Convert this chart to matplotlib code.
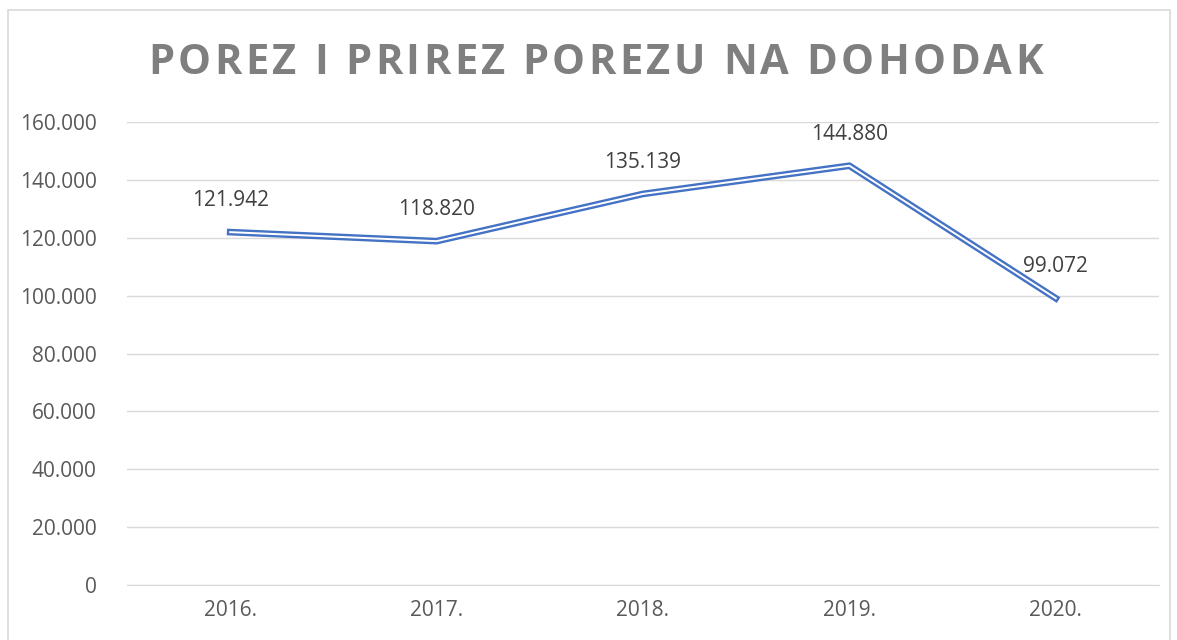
import matplotlib.pyplot as plt
from matplotlib.patches import Rectangle

years = ["2016.", "2017.", "2018.", "2019.", "2020."]
values = [121942, 118820, 135139, 144880, 99072]
labels = ["121.942", "118.820", "135.139", "144.880", "99.072"]
yticks = [0, 20000, 40000, 60000, 80000, 100000, 120000, 140000, 160000]
ytick_labels = ["0", "20.000", "40.000", "60.000", "80.000", "100.000", "120.000", "140.000", "160.000"]
title = "POREZ I PRIREZ POREZU NA DOHODAK"

plt.rcParams['font.family'] = ['Open Sans', 'DejaVu Sans']

fig = plt.figure(figsize=(11.77, 6.4), dpi=100)
ax = fig.add_axes([0.1079, 0.0859, 0.8768, 0.7235])

# outer chart border
fig.patches.append(Rectangle((8 / 1177, -0.05), 1162 / 1177, 1 - 10 / 640 + 0.05,
                             transform=fig.transFigure, fill=False,
                             edgecolor='#D9D9D9', linewidth=1.2))

x = range(len(years))
# double (compound) line: thick blue with thin white stripe inside
ax.plot(x, values, color='#4472C4', linewidth=4.8, solid_joinstyle='miter', zorder=3)
ax.plot(x, values, color='white', linewidth=1.4, solid_joinstyle='miter', zorder=4)

for i, v in enumerate(values):
    ax.annotate(labels[i], (i, v), xytext=(0, 15), textcoords='offset points',
                ha='center', va='bottom', fontsize=15, color='#404040')

ax.set_xlim(-0.5, len(years) - 0.5)
ax.set_ylim(0, 160000)
ax.set_xticks(list(x))
ax.set_xticklabels(years)
ax.set_yticks(yticks)
ax.set_yticklabels(ytick_labels)
ax.tick_params(length=0, labelsize=15, labelcolor='#595959')
ax.tick_params(axis='x', pad=11)
ax.tick_params(axis='y', pad=22)
ax.grid(axis='y', color='#D9D9D9', linewidth=1)
ax.set_axisbelow(True)
for s in ['top', 'right', 'left']:
    ax.spines[s].set_visible(False)
ax.spines['bottom'].set_color('#D9D9D9')

# title with letter spacing: place characters one by one
renderer = fig.canvas.get_renderer()
spacing = 3.4  # extra px between letters
chars = []
for c in title:
    t = fig.text(0, 0, c, fontsize=30, fontweight='bold', color='#7F7F7F', va='center', ha='left')
    chars.append(t)
widths = [t.get_window_extent(renderer).width if c != ' ' else 11 for t, c in zip(chars, title)]
total = sum(widths) + spacing * (len(title) - 1)
xpos = (148 + 1043) / 2 - total / 2
for t, w in zip(chars, widths):
    t.set_position((xpos / 1177, 1 - 63 / 640))
    xpos += w + spacing

plt.savefig('out.png', dpi=100)
